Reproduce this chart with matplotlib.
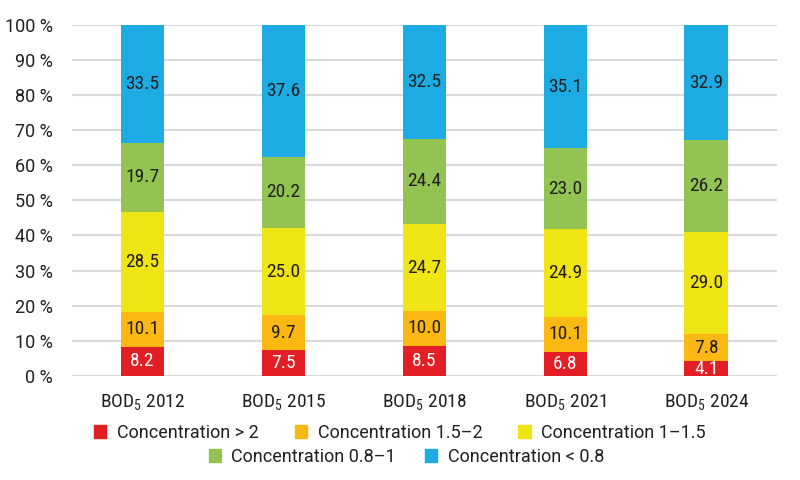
import numpy as np
import matplotlib
matplotlib.use("Agg")
import matplotlib.pyplot as plt
from matplotlib.patches import Patch

plt.rcParams['font.family'] = ['Roboto', 'DejaVu Sans']
plt.rcParams['mathtext.fontset'] = 'custom'
plt.rcParams['mathtext.rm'] = 'Roboto Condensed'

years = ['2012', '2015', '2018', '2021', '2024']
series_names = ['Concentration > 2', 'Concentration 1.5\u20132', 'Concentration 1\u20131.5',
                'Concentration 0.8\u20131', 'Concentration < 0.8']
conc_gt2 = [8.2, 7.5, 8.5, 6.8, 4.1]
conc_15_2 = [10.1, 9.7, 10.0, 10.1, 7.8]
conc_1_15 = [28.5, 25.0, 24.7, 24.9, 29.0]
conc_08_1 = [19.7, 20.2, 24.4, 23.0, 26.2]
conc_lt08 = [33.5, 37.6, 32.5, 35.1, 32.9]

colors = ['#E31E24', '#FBB813', '#F0E514', '#92C353', '#1DABE3']
text_dark = '#231F20'
cond = ['Roboto Condensed', 'Roboto', 'DejaVu Sans']

fig = plt.figure(figsize=(8, 4.8), dpi=100)
ax = fig.add_axes([0.09, 0.217, 0.881, 0.731])

x = np.arange(len(years))
bottom = np.zeros(len(years))
for vals, col in zip([conc_gt2, conc_15_2, conc_1_15, conc_08_1, conc_lt08], colors):
    vals = np.array(vals)
    ax.bar(x, vals, 0.31, bottom=bottom, color=col, zorder=3)
    tc = 'white' if col == '#E31E24' else text_dark
    for xi, b, v in zip(x, bottom, vals):
        ax.text(xi, b + v / 2, f'{v:.1f}', ha='center', va='center', fontsize=14,
                family=cond, color=tc, zorder=4)
    bottom += vals

ax.set_xlim(-0.5, 4.5)
ax.set_ylim(0, 100)
ax.set_yticks(range(0, 101, 10))
ax.set_yticklabels([f'{t} %' for t in range(0, 101, 10)], fontsize=13)
ax.set_xticks(x)
ax.set_xticklabels([r'BOD$_{\mathregular{5}}$ ' + y for y in years], fontsize=14, family=cond)
ax.tick_params(length=0, labelcolor=text_dark)
ax.tick_params(axis='x', pad=12)
ax.tick_params(axis='y', pad=14)
ax.grid(axis='y', color='#D9D9D9', linewidth=1.5, zorder=0)
for s in ax.spines.values():
    s.set_visible(False)

handles = [Patch(color=c, label=n) for c, n in zip(colors, series_names)]
fig.legend(handles=handles[:3], loc='center', bbox_to_anchor=(0.5, 0.098), ncol=3,
           frameon=False, fontsize=13, handlelength=0.67, handleheight=0.67,
           columnspacing=2.0, handletextpad=0.6, labelcolor=text_dark,
           borderpad=0, borderaxespad=0)
fig.legend(handles=handles[3:], loc='center', bbox_to_anchor=(0.508, 0.048), ncol=2,
           frameon=False, fontsize=13, handlelength=0.67, handleheight=0.67,
           columnspacing=1.6, handletextpad=0.6, labelcolor=text_dark,
           borderpad=0, borderaxespad=0)

fig.savefig('out.png', dpi=100)
